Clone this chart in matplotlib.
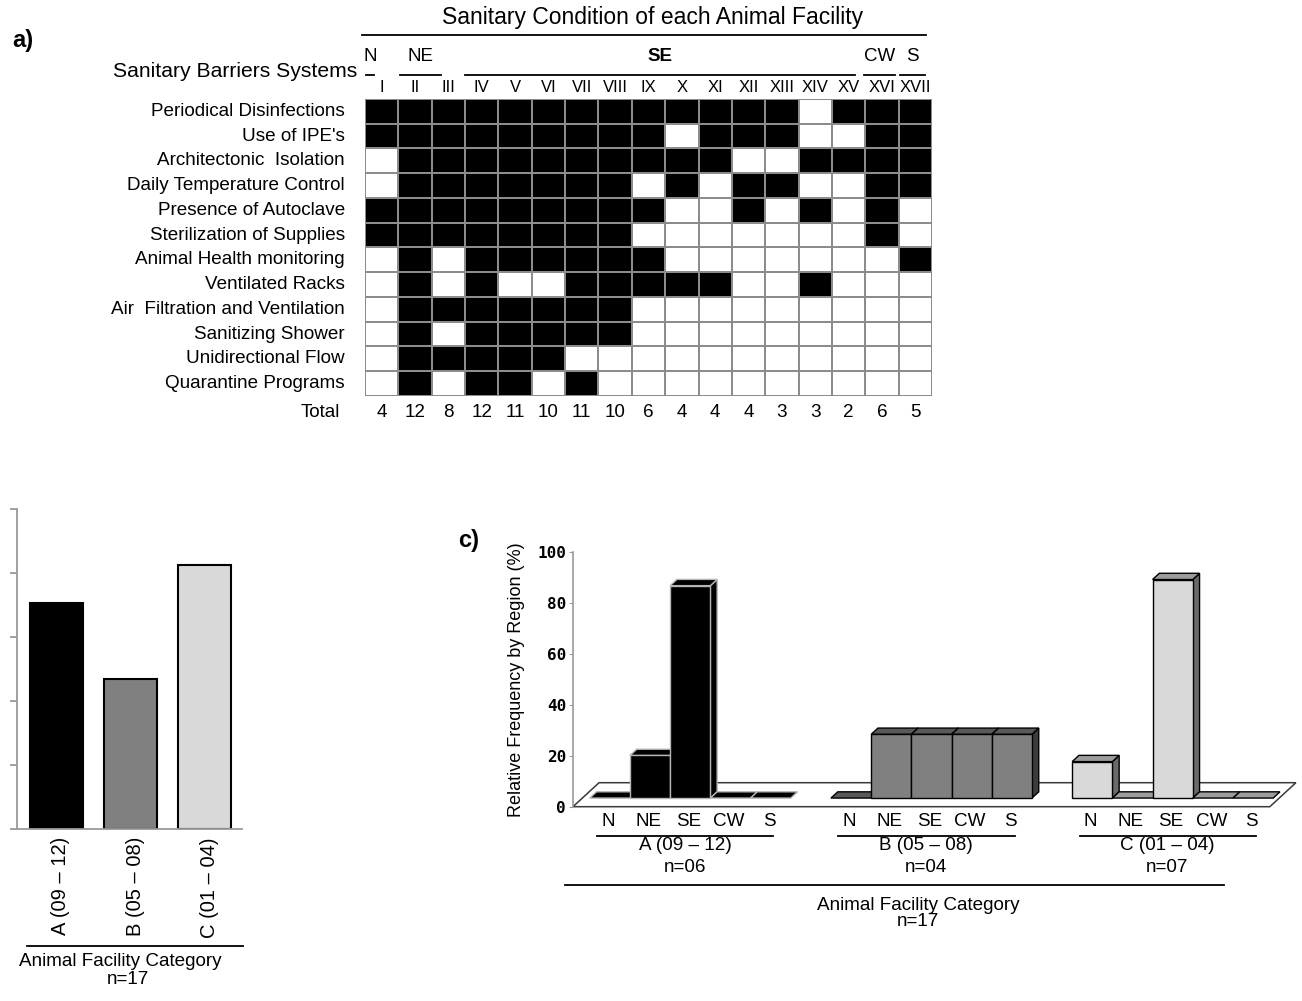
import matplotlib
matplotlib.use('Agg')
import matplotlib.pyplot as plt
from matplotlib.patches import Polygon
from matplotlib.colors import ListedColormap
import numpy as np

plt.rcParams['font.family'] = ['Liberation Sans', 'DejaVu Sans']

# ---------------- data ----------------
barriers = ["Periodical Disinfections", "Use of IPE's", "Architectonic  Isolation",
            "Daily Temperature Control", "Presence of Autoclave", "Sterilization of Supplies",
            "Animal Health monitoring", "Ventilated Racks", "Air  Filtration and Ventilation",
            "Sanitizing Shower", "Unidirectional Flow", "Quarantine Programs"]
facilities = ["I", "II", "III", "IV", "V", "VI", "VII", "VIII", "IX", "X", "XI", "XII",
              "XIII", "XIV", "XV", "XVI", "XVII"]
facility_regions = ["N", "NE", "SE", "CW", "S"]
facility_region_span = [1, 2, 12, 1, 1]
presence = [
    [1, 1, 1, 1, 1, 1, 1, 1, 1, 1, 1, 1, 1, 0, 1, 1, 1],
    [1, 1, 1, 1, 1, 1, 1, 1, 1, 0, 1, 1, 1, 0, 0, 1, 1],
    [0, 1, 1, 1, 1, 1, 1, 1, 1, 1, 1, 0, 0, 1, 1, 1, 1],
    [0, 1, 1, 1, 1, 1, 1, 1, 0, 1, 0, 1, 1, 0, 0, 1, 1],
    [1, 1, 1, 1, 1, 1, 1, 1, 1, 0, 0, 1, 0, 1, 0, 1, 0],
    [1, 1, 1, 1, 1, 1, 1, 1, 0, 0, 0, 0, 0, 0, 0, 1, 0],
    [0, 1, 0, 1, 1, 1, 1, 1, 1, 0, 0, 0, 0, 0, 0, 0, 1],
    [0, 1, 0, 1, 0, 0, 1, 1, 1, 1, 1, 0, 0, 1, 0, 0, 0],
    [0, 1, 1, 1, 1, 1, 1, 1, 0, 0, 0, 0, 0, 0, 0, 0, 0],
    [0, 1, 0, 1, 1, 1, 1, 1, 0, 0, 0, 0, 0, 0, 0, 0, 0],
    [0, 1, 1, 1, 1, 1, 0, 0, 0, 0, 0, 0, 0, 0, 0, 0, 0],
    [0, 1, 0, 1, 1, 0, 1, 0, 0, 0, 0, 0, 0, 0, 0, 0, 0],
]
totals = [4, 12, 8, 12, 11, 10, 11, 10, 6, 4, 4, 4, 3, 3, 2, 6, 5]

categories = ["A (09 \u2013 12)", "B (05 \u2013 08)", "C (01 \u2013 04)"]
category_n = ["n=06", "n=04", "n=07"]
category_pct = [35.3, 23.5, 41.2]          # % of the 17 facilities

regions = ["N", "NE", "SE", "CW", "S"]
freq_A = [0.0, 16.7, 83.3, 0.0, 0.0]
freq_B = [0.0, 25.0, 25.0, 25.0, 25.0]
freq_C = [14.3, 0.0, 85.7, 0.0, 0.0]

# ---------------- figure ----------------
W, H = 1302, 1001
fig = plt.figure(figsize=(W / 100, H / 100), dpi=100)


def rect(x0, y0, x1, y1):
    return [x0 / W, 1 - y1 / H, (x1 - x0) / W, (y1 - y0) / H]


FS = 13.6
fig.text(12 / W, 1 - 40 / H, "a)", fontsize=17, fontweight='bold', va='center', ha='left')
fig.text(458 / W, 1 - 540 / H, "c)", fontsize=17, fontweight='bold', va='center', ha='left')

# ---------------- panel a ----------------
ax_a = fig.add_axes(rect(365, 99, 932, 396))
ncol, nrow = len(facilities), len(barriers)
ax_a.pcolormesh(np.arange(ncol + 1), np.arange(nrow + 1), np.array(presence),
                cmap=ListedColormap(['white', 'black']), vmin=0, vmax=1,
                edgecolors='#8c8c8c', linewidth=1.3)
ax_a.set_xlim(0, ncol)
ax_a.set_ylim(nrow, 0)
ax_a.axis('off')
rh = 24.64  # px per row
cw = 33.35  # px per col


def ay(py):
    return (py - 99) / rh


def ax_(px):
    return (px - 365) / cw


for i, b in enumerate(barriers):
    ax_a.text(ax_(345), i + 0.5, b, ha='right', va='center', fontsize=FS, clip_on=False)
for j, f in enumerate(facilities):
    ax_a.text(j + 0.5, ay(88), f, ha='center', va='center', fontsize=12, clip_on=False)
    ax_a.text(j + 0.5, ay(411), str(totals[j]), ha='center', va='center', fontsize=FS, clip_on=False)
ax_a.text(ax_(340), ay(411), "Total", ha='right', va='center', fontsize=FS, clip_on=False)
ax_a.text(ax_(357), ay(72), "Sanitary Barriers Systems", ha='right', va='center',
          fontsize=15.2, clip_on=False)

start = 0
line_pad = {"N": (0.02, 0.72), "NE": (0.05, 0.72), "SE": (0.0, 0.3), "CW": (-0.05, 0.1),
            "S": (0.05, 0.2)}
for r, span in zip(facility_regions, facility_region_span):
    l0 = start + line_pad[r][0]
    l1 = start + span - line_pad[r][1]
    ax_a.plot([l0, l1], [ay(75), ay(75)], color='black', lw=1.3, clip_on=False)
    ax_a.text((l0 + l1) / 2, ay(57), r, ha='center', va='center', fontsize=13.5,
              fontweight='bold' if r == "SE" else 'normal', clip_on=False)
    start += span
ax_a.plot([ax_(362), ax_(926)], [ay(35), ay(35)], color='black', lw=1.3, clip_on=False)
ax_a.text(ax_(653), ay(18), "Sanitary Condition of each Animal Facility", ha='center',
          va='center', fontsize=16.5, clip_on=False)

# ---------------- panel b ----------------
ax_b = fig.add_axes(rect(17, 509, 242, 829))
ax_b.bar(range(3), category_pct, width=0.714, color=['black', '#808080', '#d9d9d9'],
         edgecolor='black', linewidth=1.5)
ax_b.set_xlim(-0.53, 2.5)
ax_b.set_ylim(0, 50)
ax_b.set_yticks(range(0, 51, 10))
ax_b.set_yticklabels([])
ax_b.set_xticks([])
for s in ['top', 'right']:
    ax_b.spines[s].set_visible(False)
for s in ['left', 'bottom']:
    ax_b.spines[s].set_color('#9a9a9a')
    ax_b.spines[s].set_linewidth(1.3)
ax_b.tick_params(axis='y', length=5, color='#9a9a9a', width=1.3)
py_b = 320 / 50.0


def by(py):
    return -(py - 829) / py_b


for i, c in enumerate(categories):
    ax_b.text(i + 0.06, by(837), c, rotation=90, ha='center', va='top', fontsize=14.5,
              clip_on=False)
ax_b.plot([-0.4, 2.51], [by(946), by(946)], color='black', lw=1.3, clip_on=False)
ax_b.text(0.86, by(962), "Animal Facility Category", ha='center', va='center', fontsize=FS,
          clip_on=False)
ax_b.text(0.96, by(980), "n=17", ha='center', va='center', fontsize=FS, clip_on=False)

# ---------------- panel c ----------------
ax_c = fig.add_axes(rect(573, 551.7, 1296, 806.7))
ax_c.set_xlim(-0.184, 17.8)
ax_c.set_ylim(0, 100)
DX, DY = 0.647, 9.41        # depth direction for the full floor depth
Z1, Z2 = 0.36, 0.62         # bar depth range


def P(u, v, z):
    return (u + z * DX, v + z * DY)


floor = [P(-0.184, 0, 0), P(17.15, 0, 0), P(17.15, 0, 1), P(-0.184, 0, 1)]
ax_c.add_patch(Polygon(floor, closed=True, facecolor='white', edgecolor='#3a3a3a', lw=1.1,
                       clip_on=False, zorder=1))

styles = [
    dict(front='black', top='black', side='black', edge='#b5b5b5'),
    dict(front='#808080', top='#595959', side='#3c3c3c', edge='black'),
    dict(front='#d9d9d9', top='#9c9c9c', side='#6a6a6a', edge='black'),
]
zo = 2
for g, vals in enumerate([freq_A, freq_B, freq_C]):
    st = styles[g]
    for k, val in enumerate(vals):
        u0 = g * 6 + k
        u1 = u0 + 1
        if val > 0:
            side = [P(u1, 0, Z1), P(u1, 0, Z2), P(u1, val, Z2), P(u1, val, Z1)]
            ax_c.add_patch(Polygon(side, closed=True, facecolor=st['side'], edgecolor=st['edge'],
                                   lw=1.0, clip_on=False, zorder=zo))
        top = [P(u0, val, Z1), P(u1, val, Z1), P(u1, val, Z2), P(u0, val, Z2)]
        ax_c.add_patch(Polygon(top, closed=True, facecolor=st['top'], edgecolor=st['edge'],
                               lw=1.0, clip_on=False, zorder=zo + 0.1))
        if val > 0:
            front = [P(u0, 0, Z1), P(u1, 0, Z1), P(u1, val, Z1), P(u0, val, Z1)]
            ax_c.add_patch(Polygon(front, closed=True, facecolor=st['front'],
                                   edgecolor=st['edge'], lw=1.0, clip_on=False, zorder=zo + 0.2))
        zo += 1

for s in ['top', 'right', 'bottom']:
    ax_c.spines[s].set_visible(False)
ax_c.spines['left'].set_color('#9a9a9a')
ax_c.spines['left'].set_linewidth(1.2)
ax_c.set_xticks([])
ax_c.set_yticks(range(0, 101, 20))
ax_c.tick_params(axis='y', length=3, color='#9a9a9a', pad=2, labelsize=11.5)
for t in ax_c.get_yticklabels():
    t.set_fontweight('bold')
    t.set_family(['DejaVu Sans Mono', 'DejaVu Sans'])
ax_c.set_ylabel("Relative Frequency by Region (%)", fontsize=13)
ax_c.yaxis.set_label_coords(-0.066, 0.5)

pv = 2.55


def cy(py):
    return -(py - 806.7) / pv


for g in range(3):
    for k, r in enumerate(regions):
        ax_c.text(g * 6 + k + 0.5 + 0.3 * DX, cy(821), r, ha='center', va='center',
                  fontsize=FS, clip_on=False)
    ax_c.plot([g * 6 + 0.42, g * 6 + 4.8], [cy(836), cy(836)], color='black', lw=1.3,
              clip_on=False)
    ax_c.text(g * 6 + 2.6, cy(846), categories[g], ha='center', va='center', fontsize=FS,
              clip_on=False)
    ax_c.text(g * 6 + 2.6, cy(868), category_n[g], ha='center', va='center', fontsize=FS,
              clip_on=False)
ax_c.plot([-0.38, 16.0], [cy(885), cy(885)], color='black', lw=1.3, clip_on=False)
ax_c.text(8.4, cy(905), "Animal Facility Category", ha='center', va='center', fontsize=FS,
          clip_on=False)
ax_c.text(8.4, cy(922), "n=17", ha='center', va='center', fontsize=FS, clip_on=False)

fig.savefig("out.png", dpi=100)
